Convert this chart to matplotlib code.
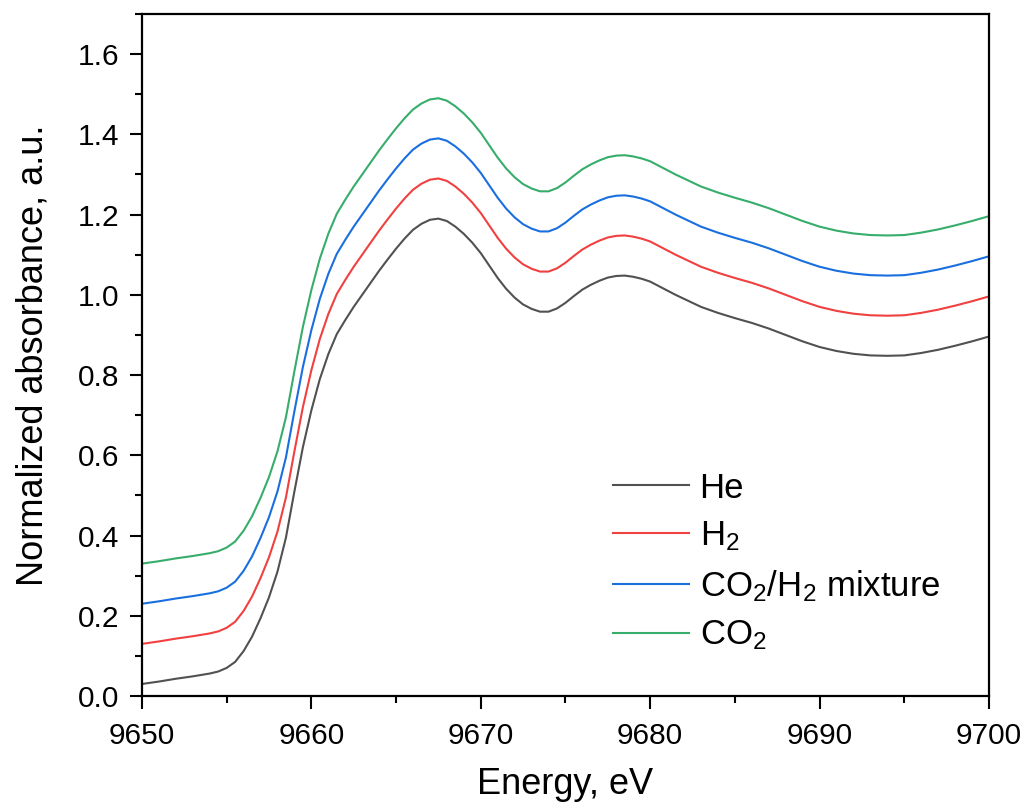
import matplotlib
matplotlib.use("Agg")
import matplotlib.pyplot as plt
from matplotlib.ticker import MultipleLocator

plt.rcParams['font.family'] = ['Liberation Sans', 'DejaVu Sans']
plt.rcParams['mathtext.default'] = 'regular'

energy = [9650, 9651, 9652, 9653, 9654, 9654.5, 9655, 9655.5, 9656, 9656.5,
          9657, 9657.5, 9658, 9658.5, 9659, 9659.5, 9660, 9660.5, 9661, 9661.5,
          9662, 9662.5, 9663, 9663.5, 9664, 9664.5, 9665, 9665.5, 9666, 9666.5,
          9667, 9667.5, 9668, 9668.5, 9669, 9669.5, 9670, 9670.5, 9671, 9671.5,
          9672, 9672.5, 9673, 9673.5, 9674, 9674.5, 9675, 9675.5, 9676, 9676.5,
          9677, 9677.5, 9678, 9678.5, 9679, 9679.5, 9680, 9680.5, 9681, 9681.5,
          9682, 9683, 9684, 9685, 9686, 9687, 9688, 9689, 9690, 9691,
          9692, 9693, 9694, 9695, 9696, 9697, 9698, 9699, 9700]

he = [0.030, 0.036, 0.043, 0.049, 0.056, 0.061, 0.070, 0.085, 0.112, 0.148,
      0.194, 0.246, 0.310, 0.395, 0.510, 0.620, 0.712, 0.790, 0.852, 0.902,
      0.937, 0.970, 1.000, 1.030, 1.060, 1.088, 1.115, 1.140, 1.162, 1.177,
      1.187, 1.190, 1.184, 1.170, 1.152, 1.130, 1.104, 1.073, 1.042, 1.015,
      0.993, 0.976, 0.965, 0.958, 0.958, 0.966, 0.980, 0.997, 1.013, 1.025,
      1.035, 1.043, 1.047, 1.048, 1.045, 1.040, 1.033, 1.022, 1.011, 1.000,
      0.990, 0.970, 0.955, 0.942, 0.930, 0.916, 0.900, 0.884, 0.870, 0.860,
      0.853, 0.849, 0.848, 0.849, 0.855, 0.863, 0.873, 0.884, 0.896]

h2 = [0.130, 0.136, 0.143, 0.149, 0.156, 0.161, 0.170, 0.185, 0.212, 0.248,
      0.294, 0.346, 0.410, 0.495, 0.610, 0.720, 0.812, 0.890, 0.952, 1.002,
      1.037, 1.070, 1.100, 1.130, 1.160, 1.188, 1.215, 1.240, 1.262, 1.277,
      1.287, 1.290, 1.284, 1.270, 1.252, 1.230, 1.204, 1.173, 1.142, 1.115,
      1.093, 1.076, 1.065, 1.058, 1.058, 1.066, 1.080, 1.097, 1.113, 1.125,
      1.135, 1.143, 1.147, 1.148, 1.145, 1.140, 1.133, 1.122, 1.111, 1.100,
      1.090, 1.070, 1.055, 1.042, 1.030, 1.016, 1.000, 0.984, 0.970, 0.960,
      0.953, 0.949, 0.948, 0.949, 0.955, 0.963, 0.973, 0.984, 0.996]

mix = [0.230, 0.236, 0.243, 0.249, 0.256, 0.261, 0.270, 0.285, 0.312, 0.348,
       0.394, 0.446, 0.510, 0.595, 0.710, 0.820, 0.912, 0.990, 1.052, 1.102,
       1.137, 1.170, 1.200, 1.230, 1.260, 1.288, 1.315, 1.340, 1.362, 1.377,
       1.387, 1.390, 1.384, 1.370, 1.352, 1.330, 1.304, 1.273, 1.242, 1.215,
       1.193, 1.176, 1.165, 1.158, 1.158, 1.166, 1.180, 1.197, 1.213, 1.225,
       1.235, 1.243, 1.247, 1.248, 1.245, 1.240, 1.233, 1.222, 1.211, 1.200,
       1.190, 1.170, 1.155, 1.142, 1.130, 1.116, 1.100, 1.084, 1.070, 1.060,
       1.053, 1.049, 1.048, 1.049, 1.055, 1.063, 1.073, 1.084, 1.096]

co2 = [0.330, 0.336, 0.343, 0.349, 0.356, 0.361, 0.370, 0.385, 0.412, 0.448,
       0.494, 0.546, 0.610, 0.695, 0.810, 0.920, 1.012, 1.090, 1.152, 1.202,
       1.237, 1.270, 1.300, 1.330, 1.360, 1.388, 1.415, 1.440, 1.462, 1.477,
       1.487, 1.490, 1.484, 1.470, 1.452, 1.430, 1.404, 1.373, 1.342, 1.315,
       1.293, 1.276, 1.265, 1.258, 1.258, 1.266, 1.280, 1.297, 1.313, 1.325,
       1.335, 1.343, 1.347, 1.348, 1.345, 1.340, 1.333, 1.322, 1.311, 1.300,
       1.290, 1.270, 1.255, 1.242, 1.230, 1.216, 1.200, 1.184, 1.170, 1.160,
       1.153, 1.149, 1.148, 1.149, 1.155, 1.163, 1.173, 1.184, 1.196]

labels = ['He', 'H$_2$', 'CO$_2$/H$_2$ mixture', 'CO$_2$']
colors = ['#515151', '#F14040', '#1A6FDF', '#37AD6B']

fig = plt.figure(figsize=(10.25, 8.05), dpi=100)
ax = fig.add_axes([0.1385, 0.1354, 0.8263, 0.8472])

for y, lab, c in zip([he, h2, mix, co2], labels, colors):
    ax.plot(energy, y, color=c, lw=1.5, label=lab, solid_joinstyle='round')

ax.set_xlim(9650, 9700)
ax.set_ylim(0, 1.7)
ax.xaxis.set_major_locator(MultipleLocator(10))
ax.xaxis.set_minor_locator(MultipleLocator(5))
ax.set_yticks([0, 0.2, 0.4, 0.6, 0.8, 1.0, 1.2, 1.4, 1.6])
ax.yaxis.set_minor_locator(MultipleLocator(0.1))
ax.yaxis.set_major_formatter(plt.FormatStrFormatter('%.1f'))

ax.tick_params(which='both', direction='out', top=False, right=False,
               width=1.5, labelsize=21.5)
ax.tick_params(which='major', length=9)
ax.tick_params(which='minor', length=5)
ax.tick_params(axis='x', which='major', pad=10)
ax.tick_params(axis='y', which='major', pad=7)
for s in ax.spines.values():
    s.set_linewidth(1.6)

ax.set_xlabel('Energy, eV', fontsize=26, labelpad=12)
ax.set_ylabel('Normalized absorbance, a.u.', fontsize=26, labelpad=20)

ax.legend(loc='upper left', bbox_to_anchor=(0.519, 0.375), frameon=False,
          fontsize=25, handlelength=2.2, labelspacing=0.43, handletextpad=0.3)

fig.savefig('out.png', dpi=100)
